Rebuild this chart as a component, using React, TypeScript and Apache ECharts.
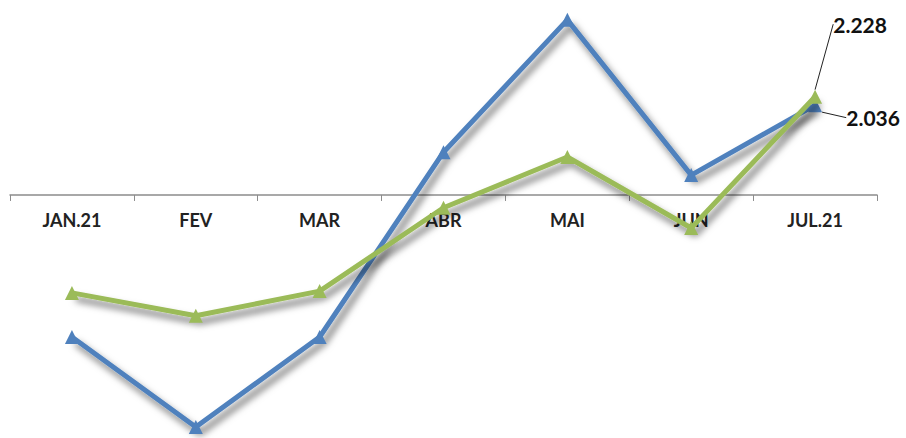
import React, { useEffect, useRef } from "react";
import * as echarts from "echarts";

const categories = ["JAN.21", "FEV", "MAR", "ABR", "MAI", "JUN", "JUL.21"];
const blueValues = [-3.22, -5.26, -3.22, 0.97, 3.97, 0.45, 2.036];
const greenValues = [-2.22, -2.74, -2.18, -0.29, 0.86, -0.75, 2.228];

const FONT = "Lato, 'Open Sans', sans-serif";
const HEIGHT = 438;

function makeSeries(name: string, values: number[], color: string, layout: { dx: number; dy: number }) {
  const last = values.length - 1;
  return {
    name,
    type: "line",
    data: values.map((v, i) =>
      i === last
        ? { value: v, label: { show: true }, labelLine: { show: true } }
        : v
    ),
    symbol: "triangle",
    symbolSize: 14,
    z: name === "green" ? 3 : 2,
    lineStyle: {
      color,
      width: 5,
      shadowColor: "rgba(0,0,0,0.55)",
      shadowBlur: 7,
      shadowOffsetX: 4,
      shadowOffsetY: 6,
    },
    itemStyle: { color },
    label: {
      show: false,
      formatter: (p: any) => Number(p.value).toFixed(3),
      fontFamily: FONT,
      fontWeight: "bold",
      fontSize: 21,
      color: "#111",
    },
    labelLine: { show: false, lineStyle: { color: "#222", width: 1 } },
    labelLayout: (p: any) => (p.dataIndex === last ? { dx: layout.dx, dy: layout.dy } : {}),
  };
}

export default function App() {
  const ref = useRef<HTMLDivElement>(null);
  useEffect(() => {
    if (!ref.current) return;
    const chart = echarts.init(ref.current, null, { renderer: "svg" });
    chart.setOption({
      animation: false,
      grid: { left: 10, right: 29, top: 0, bottom: 0, containLabel: false, outerBoundsMode: "none" },
      xAxis: {
        type: "category",
        data: categories,
        boundaryGap: true,
        axisLine: { onZero: false, lineStyle: { color: "#8c8c8c", width: 1.5 } },
        axisTick: { show: true, length: 6, lineStyle: { color: "#8c8c8c" } },
        axisLabel: {
          fontFamily: FONT,
          fontWeight: "bold",
          fontSize: 18,
          color: "#222",
          margin: 16,
        },
        z: 1,
      },
      yAxis: {
        type: "value",
        min: -5.51,
        max: 4.42,
        show: false,
        splitLine: { show: false },
      },
      series: [
        makeSeries("blue", blueValues, "#4f81bd", { dx: 58, dy: 35 }),
        makeSeries("green", greenValues, "#9bbb59", { dx: 45, dy: -50 }),
      ],
    });
    const zeroY = chart.convertToPixel({ yAxisIndex: 0 }, 0) as number;
    chart.setOption({ xAxis: { offset: -(HEIGHT - zeroY) } });
    return () => chart.dispose();
  }, []);
  return (
    <div
      ref={ref}
      style={{ position: "fixed", left: 0, top: 0, width: 906, height: HEIGHT, background: "#fff" }}
    />
  );
}
